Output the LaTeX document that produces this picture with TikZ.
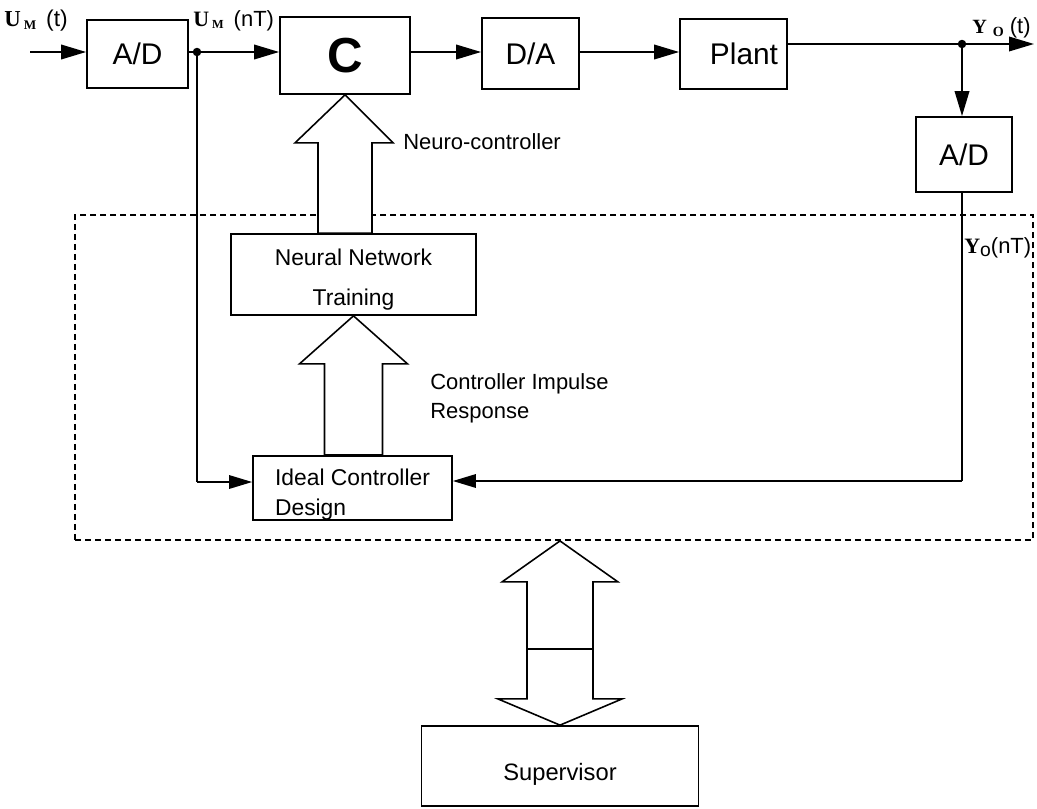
\documentclass[tikz,border=0pt]{standalone}
\usepackage{fontspec}
\setmainfont{Liberation Sans}
\newfontfamily\serifb{Liberation Serif}
\usetikzlibrary{arrows.meta,calc}
\begin{document}
\begin{tikzpicture}[x=0.02cm,y=-0.02cm,
  box/.style={draw,line width=1.0pt,inner sep=0pt,font=\fontsize{17}{20}\selectfont},
  sig/.style={line width=1.1pt,-{Triangle[length=0.5cm,width=0.29cm]}},
  plain/.style={line width=1.1pt},
  thin/.style={line width=0.9pt},
  fb/.style={line width=0.9pt,-{Triangle[length=0.46cm,width=0.27cm]}},
  hollow/.style={draw,fill=white,line width=0.9pt,line join=miter},
  dashedbox/.style={draw,dash pattern=on 0.12cm off 0.08cm,line width=1.1pt,inner sep=0pt},
  lbl/.style={font=\fontsize{12.5}{16}\selectfont,inner sep=0pt},
  sigl/.style={inner sep=0pt,anchor=base west},
  dot/.style={circle,fill,inner sep=0pt,minimum size=0.17cm}]
\useasboundingbox (0,0) rectangle (1037,808);

% blocks
\node[box,minimum width=2.02cm,minimum height=1.36cm] (ad1) at (137.5,54) {A/D};
\node[box,minimum width=2.6cm,minimum height=1.54cm,font=\fontsize{28}{30}\selectfont\bfseries] (C) at (345,55.5) {C};
\node[box,minimum width=1.94cm,minimum height=1.42cm] (da) at (530.5,53.5) {D/A};
\node[box,minimum width=2.14cm,minimum height=1.4cm] (plant) at (733.5,54) {\hspace*{0.42cm}Plant};
\node[box,minimum width=1.92cm,minimum height=1.5cm] (ad2) at (964,154.5) {A/D};
\node[dashedbox,minimum width=19.16cm,minimum height=6.5cm] (zone) at (554,377.5) {};
\node[box,minimum width=4.9cm,minimum height=1.62cm,font=\fontsize{13}{15}\selectfont,align=center] (nn) at (353.5,274.5) {\rule{0pt}{15pt}Neural Network\\[8pt]Training};
\node[box,minimum width=3.98cm,minimum height=1.24cm,font=\fontsize{13}{17}\selectfont,align=left] (icd) at (352.5,488) {\rule{0pt}{17pt}Ideal Controller\\Design};
\node[box,minimum width=5.54cm,minimum height=1.6cm,font=\fontsize{13.5}{16}\selectfont] (sup) at (560,766) {\rule{0pt}{19pt}Supervisor};

% coordinates
\coordinate (in) at (30,52);
\coordinate (j1) at (197,52);
\coordinate (j2) at (962,44);
\coordinate (out) at (1034,44);
\coordinate (c1) at (197,482);
\coordinate (c2) at (962,481);

% signal lines
\draw[sig] (in) -- (in -| ad1.west);
\draw[plain] (ad1.east |- j1) -- (j1);
\draw[sig] (j1) -- (j1 -| C.west);
\draw[sig] (C.east |- j1) -- (da.west |- j1);
\draw[sig] (da.east |- j1) -- (plant.west |- j1);
\draw[plain] (plant.east |- j2) -- (j2);
\draw[sig] (j2) -- (out);
\draw[sig] (j2) -- (j2 |- ad2.north);
\draw[thin] (j2 |- ad2.south) -- (c2);
\draw[fb] (c2) -- (c2 -| icd.east);
\draw[thin] (j1) -- (c1);
\draw[fb] (c1) -- (c1 -| icd.west);
\node[dot] (d1) at (j1) {};
\node[dot] (d2) at (j2) {};

% hollow arrows
\draw[hollow] (C.south) -- ++(48,48) -- ++(-21,0)
  -- ($(C.south |- nn.north)+(27,0)$) -- ($(C.south |- nn.north)+(-27,0)$)
  -- ($(C.south)+(-27,48)$) -- ($(C.south)+(-50,48)$) -- cycle;
\draw[hollow] (nn.south) -- ++(54,48) -- ++(-25,0)
  -- ($(nn.south |- icd.north)+(29,0)$) -- ($(nn.south |- icd.north)+(-29,0)$)
  -- ($(nn.south)+(-29,48)$) -- ($(nn.south)+(-54,48)$) -- cycle;
\coordinate (t1) at (sup.north |- zone.south);
\draw[hollow] (t1) -- ($(t1)+(58,41)$) -- ($(t1)+(33,41)$) -- ($(t1)+(33,158)$)
  -- ($(t1)+(62,158)$) -- (sup.north) -- ($(t1)+(-62,158)$) -- ($(t1)+(-33,158)$)
  -- ($(t1)+(-33,41)$) -- ($(t1)+(-58,41)$) -- cycle;
\draw[thin] ($(t1)+(-33,108)$) -- ($(t1)+(33,108)$);

% labels
\node[lbl,anchor=west] (nclab) at (403,142) {Neuro-controller};
\node[lbl,anchor=west,align=left,font=\fontsize{12.5}{16.5}\selectfont] (cir) at (430,398) {Controller Impulse\\Response};

\node[sigl] (um1) at (4,27) {{\serifb\bfseries\fontsize{13}{14}\selectfont U}\,{\serifb\bfseries\fontsize{7.5}{8}\selectfont\raisebox{-0.35ex}{M}}\hspace{0.2cm}{\fontsize{13}{15}\selectfont (t)}};
\node[sigl] (um2) at (193,27) {{\serifb\bfseries\fontsize{12.5}{13}\selectfont U}\,{\serifb\bfseries\fontsize{7}{8}\selectfont\raisebox{-0.35ex}{M}}\hspace{0.2cm}{\fontsize{12.5}{14}\selectfont (nT)}};
\node[sigl] (yo1) at (972,33) {{\serifb\bfseries\fontsize{11.5}{12}\selectfont Y}\hspace{0.12cm}{\serifb\bfseries\fontsize{8}{9}\selectfont\raisebox{-0.5ex}{O}}\hspace{0.12cm}{\fontsize{12.5}{14}\selectfont (t)}};
\node[sigl] (yo2) at (964,253) {{\serifb\bfseries\fontsize{12.5}{13}\selectfont Y}{\fontsize{11}{12}\selectfont\raisebox{-0.3ex}{o}}{\fontsize{12.5}{14}\selectfont (nT)}};
\end{tikzpicture}
\end{document}
